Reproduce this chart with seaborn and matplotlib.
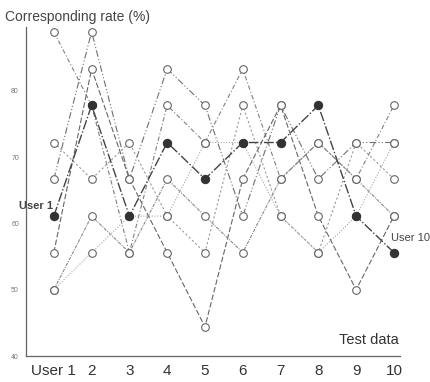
import numpy as np
import pandas as pd
import matplotlib
matplotlib.use("Agg")
import matplotlib.pyplot as plt
import seaborn as sns

# ---------------- data ----------------
test_data = [1, 2, 3, 4, 5, 6, 7, 8, 9, 10]
x_tick_labels = ["User 1", "2", "3", "4", "5", "6", "7", "8", "9", "10"]
y_ticks = [40, 50, 60, 70, 80]
y_tick_labels = ["40", "50", "60", "70", "80"]

# filled series (matching user) – connected
own_user = [61.1, 77.8, 61.1, 72.2, 66.7, 72.2, 72.2, 77.8, 61.1, 55.6]

# open-circle series
other_1 = [88.9, 77.8, 55.6, 77.8, 72.2, 83.3, 66.7, 72.2, 66.7, 77.8]
other_2 = [66.7, 88.9, 66.7, 83.3, 77.8, 61.1, 77.8, 66.7, 72.2, 72.2]
other_3 = [72.2, 66.7, 72.2, 61.1, 55.6, 77.8, 61.1, 55.6, 72.2, 66.7]
other_4 = [55.6, 83.3, 66.7, 55.6, 44.4, 66.7, 77.8, 61.1, 50.0, 61.1]
other_5 = [50.0, 61.1, 55.6, 66.7, 61.1, 55.6, 66.7, 72.2, 66.7, 61.1]
other_6 = [50.0, 55.6, 61.1, 61.1, 72.2, 72.2, 61.1, 55.6, 61.1, 72.2]

others = [other_1, other_2, other_3, other_4, other_5, other_6]

# ---------------- style ----------------
sns.set_theme(style="white")
plt.rcParams["font.family"] = ["Liberation Sans", "DejaVu Sans"]

fig = plt.figure(figsize=(4.31, 3.82), dpi=100)
ax = fig.add_axes([0.060, 0.068, 0.868, 0.861])

dash_styles = [
    (0, (4, 2, 1, 2)),
    (0, (6, 2, 1, 2, 1, 2)),
    (0, (2, 2)),
    (0, (5, 2)),
    (0, (3, 1, 1, 1)),
    (0, (1, 1.5)),
]
line_colors = ["#808080", "#707070", "#9a9a9a", "#666666", "#8a8a8a", "#a5a5a5"]

for vals, ls, col in zip(others, dash_styles, line_colors):
    df = pd.DataFrame({"test": test_data, "rate": vals})
    sns.lineplot(data=df, x="test", y="rate", ax=ax, color=col,
                 linestyle=ls, linewidth=0.8, marker="o", markersize=5.5,
                 markerfacecolor="white", markeredgecolor="#666666",
                 markeredgewidth=0.8, zorder=2)

df_own = pd.DataFrame({"test": test_data, "rate": own_user})
sns.lineplot(data=df_own, x="test", y="rate", ax=ax, color="#444444",
             linestyle=(0, (7, 1.5, 1, 1.5)), linewidth=1.0, marker="o", markersize=6,
             markerfacecolor="#333333", markeredgecolor="#333333", zorder=3)

# ---------------- axes ----------------
ax.set_xlim(0.26, 10.16)
ax.set_ylim(40, 89.6)
ax.set_xticks(test_data)
ax.set_xticklabels(x_tick_labels, fontsize=11, color="#333333")
ax.set_yticks(y_ticks)
ax.set_yticklabels(y_tick_labels, fontsize=5, color="#777777")
ax.set_yticks([45, 55, 65, 75, 85], minor=True)
ax.tick_params(axis="x", direction="inout", length=5, width=0.8, color="#555555", pad=3)
ax.tick_params(axis="y", which="both", direction="out", length=3, width=0.8, color="#777777", pad=2)
ax.set_xlabel("")
ax.set_ylabel("")
for s in ["top", "right"]:
    ax.spines[s].set_visible(False)
for s in ["left", "bottom"]:
    ax.spines[s].set_color("#666666")
    ax.spines[s].set_linewidth(0.9)

fig.text(0.012, 0.955, "Corresponding rate (%)", fontsize=10, color="#444444",
         ha="left", va="center")
ax.text(10.12, 41.4, "Test data", fontsize=10.5, color="#333333", ha="right", va="bottom")
ax.text(0.52, own_user[0] + 0.7, "User 1", fontsize=8, fontweight="bold",
        color="#444444", ha="center", va="bottom")
fig.text(0.997, 0.364, "User 10", fontsize=8, color="#444444",
         ha="right", va="bottom")

fig.savefig("out.png", dpi=100, facecolor="white")
